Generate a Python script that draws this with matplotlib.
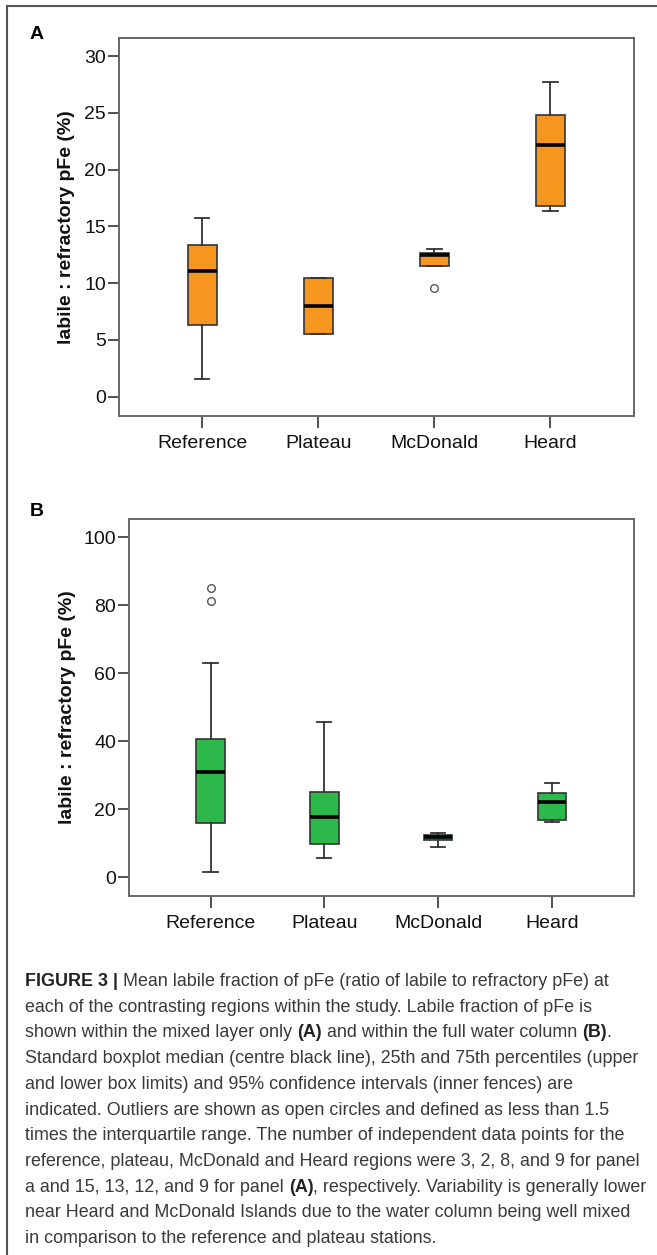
import matplotlib
matplotlib.use('Agg')
import matplotlib.pyplot as plt
from matplotlib.lines import Line2D
from matplotlib.font_manager import FontProperties, fontManager

# region names and box statistics
regions = ['Reference', 'Plateau', 'McDonald', 'Heard']

# panel A: mixed layer only
a_low = [1.6, 5.5, 11.5, 16.4]
a_q1 = [6.3, 5.5, 11.5, 16.8]
a_med = [11.1, 8.0, 12.45, 22.2]
a_q3 = [13.4, 10.5, 12.7, 24.8]
a_high = [15.7, 10.5, 13.0, 27.7]
a_out = [[], [], [9.6], []]

# panel B: full water column
b_low = [1.6, 5.6, 9.0, 16.4]
b_q1 = [15.9, 9.8, 10.9, 16.8]
b_med = [31.1, 17.6, 11.8, 22.2]
b_q3 = [40.6, 25.2, 12.5, 24.7]
b_high = [62.9, 45.7, 12.9, 27.6]
b_out = [[81.3, 85.0], [], [], []]

a_ticks = [0, 5, 10, 15, 20, 25, 30]
b_ticks = [0, 20, 40, 60, 80, 100]

caption = [
    [('FIGURE 3 |', True), (' Mean labile fraction of pFe (ratio of labile to refractory pFe) at', False)],
    [('each of the contrasting regions within the study. Labile fraction of pFe is', False)],
    [('shown within the mixed layer only ', False), ('(A)', True),
     (' and within the full water column ', False), ('(B)', True), ('.', False)],
    [('Standard boxplot median (centre black line), 25th and 75th percentiles (upper', False)],
    [('and lower box limits) and 95% confidence intervals (inner fences) are', False)],
    [('indicated. Outliers are shown as open circles and defined as less than 1.5', False)],
    [('times the interquartile range. The number of independent data points for the', False)],
    [('reference, plateau, McDonald and Heard regions were 3, 2, 8, and 9 for panel', False)],
    [('a and 15, 13, 12, and 9 for panel ', False), ('(A)', True),
     (', respectively. Variability is generally lower', False)],
    [('near Heard and McDonald Islands due to the water column being well mixed', False)],
    [('in comparison to the reference and plateau stations.', False)],
]

orange = '#F7961F'
green = '#2DB84B'

W, H = 657, 1255
plt.rcParams['font.family'] = ['Liberation Sans', 'DejaVu Sans']

fig = plt.figure(figsize=(W / 100, H / 100), dpi=100)


def rect(left, top, right, bottom):
    return [left / W, 1 - bottom / H, (right - left) / W, (bottom - top) / H]


def makeStats(low, q1, med, q3, high, out):
    stats = []
    for i in range(len(low)):
        stats.append(dict(whislo=low[i], q1=q1[i], med=med[i], q3=q3[i],
                          whishi=high[i], fliers=out[i]))
    return stats


def boxPanel(ax, stats, color, ticks, ylim, labelx):
    ax.bxp(stats, positions=[1, 2, 3, 4], widths=0.25, capwidths=0.125,
           patch_artist=True,
           boxprops=dict(facecolor=color, edgecolor='#333333', linewidth=1.2),
           medianprops=dict(color='black', linewidth=2.6),
           whiskerprops=dict(color='#333333', linewidth=1.3),
           capprops=dict(color='#333333', linewidth=1.3),
           flierprops=dict(marker='o', markerfacecolor='white',
                           markeredgecolor='#555555', markersize=5.5,
                           markeredgewidth=1.0))
    ax.set_xlim(0.28, 4.72)
    ax.set_ylim(*ylim)
    ax.set_xticks([1, 2, 3, 4])
    ax.set_xticklabels(regions)
    ax.set_yticks(ticks)
    ax.tick_params(axis='x', length=8.5, width=1.2, color='#333333',
                   labelsize=14, pad=5, labelcolor='#111111')
    ax.tick_params(axis='y', length=8, width=1.2, color='#333333',
                   labelsize=14, pad=1, labelcolor='#111111')
    for sp in ax.spines.values():
        sp.set_color('#666666')
        sp.set_linewidth(1.4)
    ax.set_ylabel('labile : refractory pFe (%)', fontsize=14,
                  fontweight='bold', color='#111111')
    ax.yaxis.set_label_coords(labelx, 0.5)


axA = fig.add_axes(rect(118.6, 38, 634, 416))
boxPanel(axA, makeStats(a_low, a_q1, a_med, a_q3, a_high, a_out), orange,
         a_ticks, (-1.7, 31.6), -0.084)

axB = fig.add_axes(rect(128.6, 519, 634, 896))
boxPanel(axB, makeStats(b_low, b_q1, b_med, b_q3, b_high, b_out), green,
         b_ticks, (-5.5, 105.4), -0.105)

fig.text(30 / W, 1 - 26 / H, 'A', fontsize=14, fontweight='bold', va='top')
fig.text(30 / W, 1 - 503 / H, 'B', fontsize=14, fontweight='bold', va='top')

# outer frame (top and left edges only)
fig.add_artist(Line2D([7 / W, 7 / W], [0, 1 - 6 / H], color='#555555', lw=1.5))
fig.add_artist(Line2D([7 / W, 1], [1 - 6 / H, 1 - 6 / H], color='#555555', lw=1.5))

# caption, drawn run by run so bold pieces can sit inside a line
renderer = fig.canvas.get_renderer()
names = [f.name for f in fontManager.ttflist]
capFamily = 'Liberation Sans Narrow' if 'Liberation Sans Narrow' in names else 'Liberation Sans'


def runWidth(text, size, bold):
    prop = FontProperties(family=capFamily, size=size,
                          weight='bold' if bold else 'normal')
    w1 = renderer.get_text_width_height_descent('|' + text + '|', prop, ismath=False)[0]
    w0 = renderer.get_text_width_height_descent('||', prop, ismath=False)[0]
    return (w1 - w0) * 72.0 / fig.dpi


def lineWidth(line, size):
    return sum(runWidth(t, size, b) for t, b in line)


baseSize = 10.0
capSize = baseSize * 623.0 / (lineWidth(caption[8], baseSize) * fig.dpi / 72.0)

y = 986
for line in caption:
    x = 25.0
    for text, bold in line:
        fig.text(x / W, 1 - y / H, text, fontsize=capSize, family=capFamily,
                 fontweight='bold' if bold else 'normal', va='baseline',
                 color='#222222' if bold else '#3a3a3a')
        x += runWidth(text, capSize, bold) * fig.dpi / 72.0
    y += 25.7

fig.savefig('out.png', dpi=100)
